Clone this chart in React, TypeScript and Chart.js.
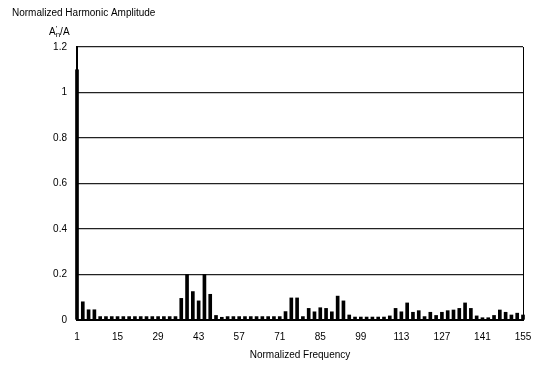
import React, { useEffect, useRef } from "react";
import { Chart, registerables } from "chart.js";

Chart.register(...registerables);

const harmonics = [
  1, 3, 5, 7, 9, 11, 13, 15, 17, 19, 21, 23, 25, 27, 29, 31, 33, 35, 37, 39,
  41, 43, 45, 47, 49, 51, 53, 55, 57, 59, 61, 63, 65, 67, 69, 71, 73, 75, 77, 79,
  81, 83, 85, 87, 89, 91, 93, 95, 97, 99, 101, 103, 105, 107, 109, 111, 113, 115, 117, 119,
  121, 123, 125, 127, 129, 131, 133, 135, 137, 139, 141, 143, 145, 147, 149, 151, 153, 155,
];

const amplitudes = [
  1.1, 0.08, 0.045, 0.045, 0.015, 0.015, 0.015, 0.015, 0.015, 0.015, 0.015, 0.015, 0.015, 0.015, 0.015, 0.015, 0.015, 0.015, 0.095, 0.2,
  0.125, 0.084, 0.2, 0.113, 0.02, 0.012, 0.015, 0.015, 0.015, 0.015, 0.015, 0.015, 0.015, 0.015, 0.015, 0.015, 0.037, 0.097, 0.097, 0.015,
  0.051, 0.036, 0.054, 0.051, 0.036, 0.105, 0.084, 0.022, 0.013, 0.013, 0.013, 0.013, 0.013, 0.013, 0.018, 0.051, 0.036, 0.075, 0.034, 0.041,
  0.015, 0.034, 0.02, 0.034, 0.041, 0.044, 0.051, 0.075, 0.051, 0.018, 0.01, 0.01, 0.02, 0.044, 0.034, 0.022, 0.03, 0.022,
];

const xTickLabels = [1, 15, 29, 43, 57, 71, 85, 99, 113, 127, 141, 155];
const yTickLabels = [0, 0.2, 0.4, 0.6, 0.8, 1, 1.2];

const chartTitle = "Normalized Harmonic Amplitude";
const xTitle = "Normalized Frequency";

const FONT = "'Liberation Sans', Arial, sans-serif";

const textPlugin = {
  id: "extraText",
  afterDraw(chart: any) {
    const ctx = chart.ctx;
    const area = chart.chartArea;
    ctx.save();
    ctx.strokeStyle = "#000";
    ctx.lineWidth = 1;
    ctx.beginPath();
    ctx.moveTo(area.right + 0.5, area.top);
    ctx.lineTo(area.right + 0.5, area.bottom);
    ctx.stroke();

    ctx.fillStyle = "#000";
    ctx.textBaseline = "middle";
    ctx.textAlign = "left";
    ctx.font = `10px ${FONT}`;
    ctx.fillText(chartTitle, 12, 13);

    let x = 49;
    const y = 32;
    ctx.font = `10px ${FONT}`;
    ctx.fillText("A", x, y);
    x += ctx.measureText("A").width;
    ctx.font = `8px ${FONT}`;
    ctx.fillText("'", x, y - 3);
    ctx.fillText("n", x, y + 3);
    x += ctx.measureText("n").width;
    ctx.font = `10px ${FONT}`;
    ctx.fillText("/A", x, y);
    ctx.restore();
  },
};

export default function App() {
  const canvasRef = useRef<HTMLCanvasElement | null>(null);

  useEffect(() => {
    if (!canvasRef.current) return;
    const data = harmonics.map((h, i) => ({ x: h, y: amplitudes[i] }));
    const chart = new Chart(canvasRef.current, {
      type: "bar",
      data: {
        datasets: [
          {
            data: data as any,
            backgroundColor: "#000",
            borderWidth: 0,
            barThickness: 3,
            clip: false as any,
          },
        ],
      },
      options: {
        responsive: false,
        animation: false,
        layout: { padding: { top: 47, right: 15, left: 0, bottom: 0 } },
        plugins: {
          legend: { display: false },
          tooltip: { enabled: false },
          title: { display: false },
        },
        scales: {
          x: {
            type: "linear",
            min: 1,
            max: 155,
            offset: false,
            afterBuildTicks: (scale: any) => {
              scale.ticks = xTickLabels.map((v) => ({ value: v }));
            },
            afterFit: (scale: any) => {
              scale.height = 45;
              scale.paddingRight = 0;
              scale.paddingLeft = 0;
            },
            grid: { display: false, drawTicks: false, offset: false },
            border: { display: true, color: "#000", width: 2 },
            ticks: {
              autoSkip: false,
              maxRotation: 0,
              padding: 11,
              color: "#000",
              font: { family: FONT, size: 10 },
              callback: (v: any) => String(v),
            },
            title: {
              display: true,
              text: xTitle,
              color: "#000",
              font: { family: FONT, size: 10 },
              padding: { top: 0, bottom: 4 },
            },
          },
          y: {
            min: 0,
            max: 1.2,
            afterBuildTicks: (scale: any) => {
              scale.ticks = yTickLabels.map((v) => ({ value: v }));
            },
            afterFit: (scale: any) => {
              scale.width = 77;
            },
            grid: { color: "#222", lineWidth: 1.3, drawTicks: false },
            border: { display: true, color: "#000", width: 2 },
            ticks: {
              padding: 10,
              color: "#000",
              font: { family: FONT, size: 10 },
              callback: (v: any) => String(Math.round(Number(v) * 10) / 10),
            },
          },
        },
      },
      plugins: [textPlugin],
    });
    return () => chart.destroy();
  }, []);

  return (
    <div style={{ position: "fixed", left: 0, top: 0, width: 538, height: 365, background: "#fff" }}>
      <canvas ref={canvasRef} width={538} height={365} />
    </div>
  );
}
